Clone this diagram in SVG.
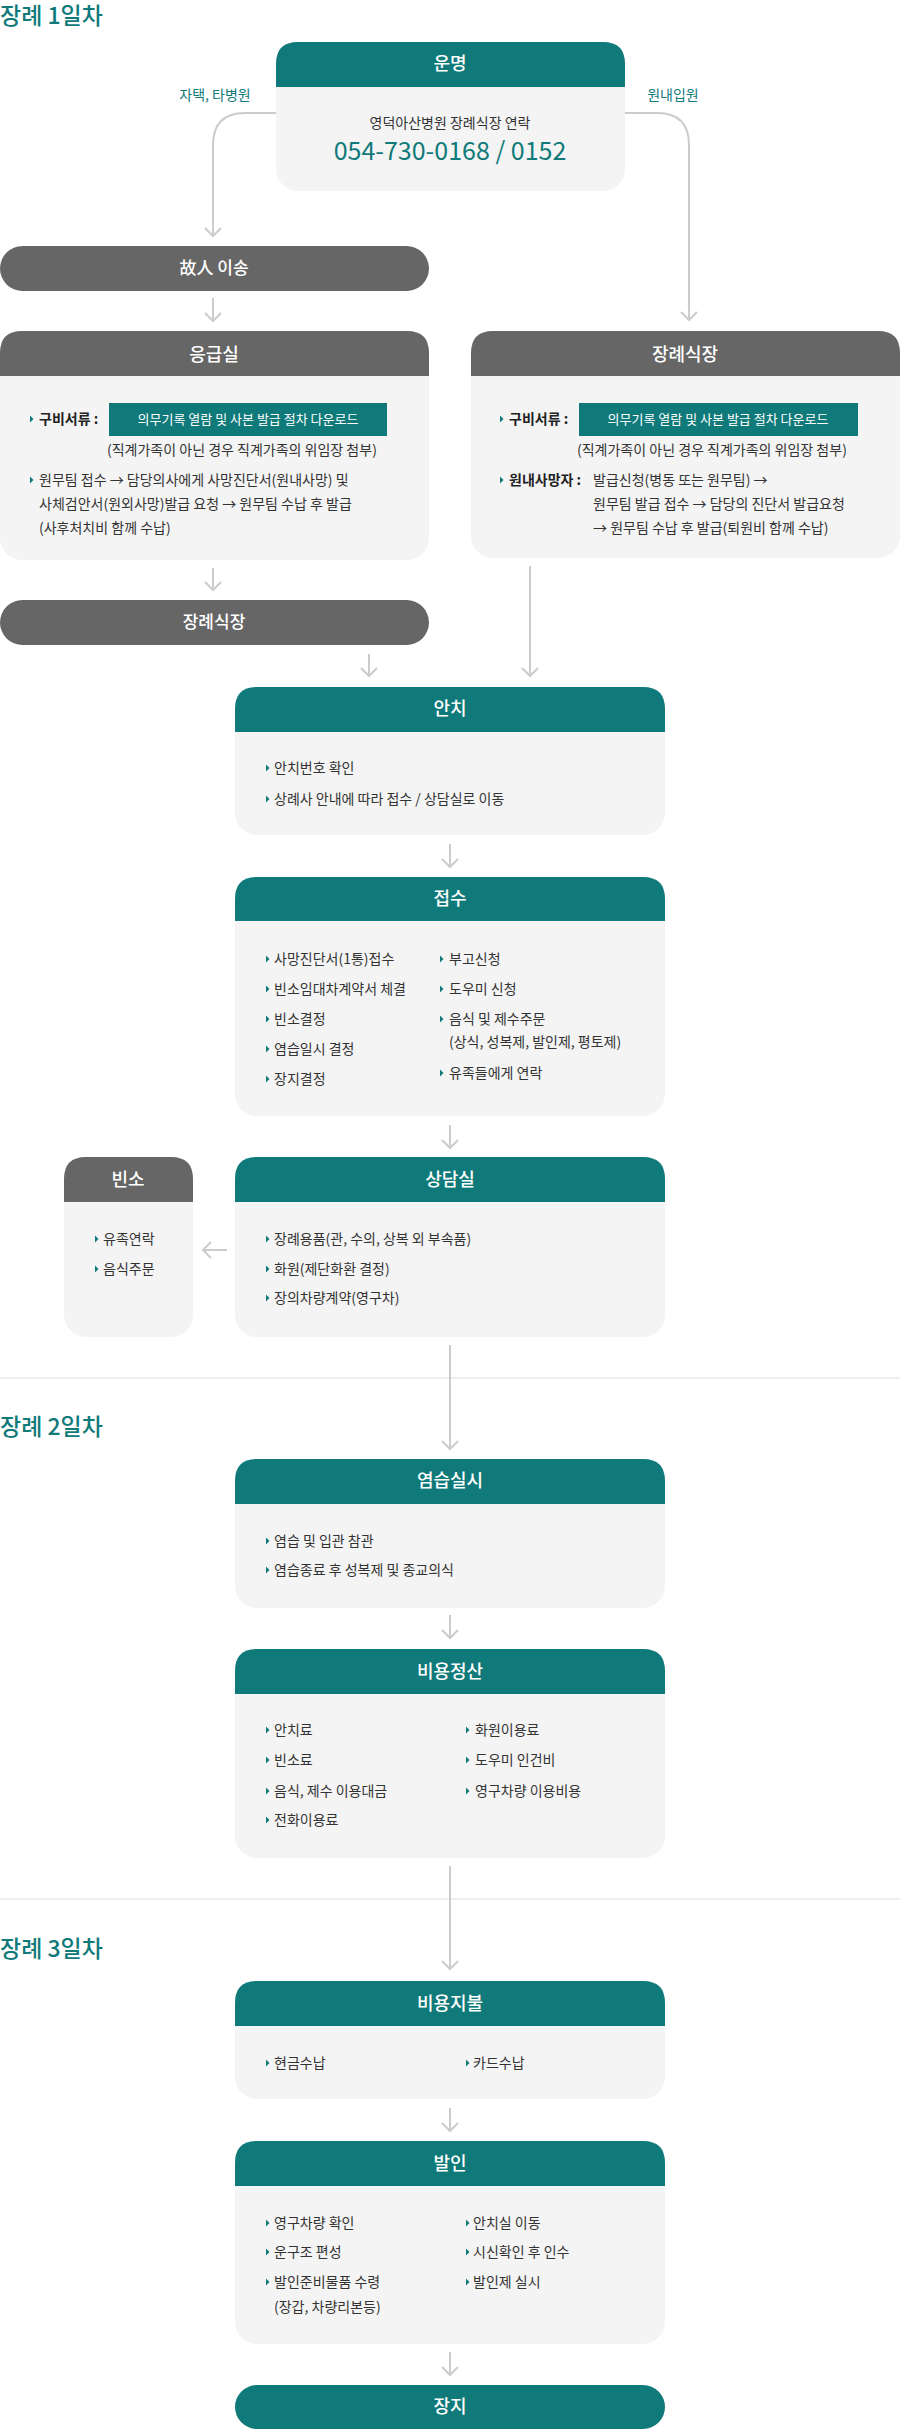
<svg xmlns="http://www.w3.org/2000/svg" xmlns:xlink="http://www.w3.org/1999/xlink" width="900" height="2430" viewBox="0 0 900 2430">
<style>
text{font-family:"Noto Sans CJK KR","Noto Sans",sans-serif}
.sec{font-size:23px;fill:#107a7a;font-weight:500}
.ht{font-size:18px;fill:#fff;text-anchor:middle;font-weight:500}
.t{font-size:14px;fill:#333}
.b{font-weight:700;fill:#222}
.bt{font-size:13px;fill:#fff;text-anchor:middle}
.lab{font-size:14px;fill:#107a7a;text-anchor:middle}
.body{fill:#f4f4f4}
.teal{fill:#107a7a}
.gray{fill:#666}
.con{fill:none;stroke:#cccccc;stroke-width:2}
.sep{stroke:#dddddd;stroke-width:1}
</style>
<defs>
<marker id="ah" markerUnits="userSpaceOnUse" markerWidth="20" markerHeight="20" refX="10" refY="10" orient="auto">
<polyline points="2,2 10,10 2,18" fill="none" stroke="#cccccc" stroke-width="2"/>
</marker>
<polygon id="bl" points="0,-3.5 3.5,0 0,3.5" fill="#107a7a"/>
</defs>

<text class="sec" x="0" y="24">장례 1일차</text>
<text class="sec" x="0" y="1435">장례 2일차</text>
<text class="sec" x="0" y="1957">장례 3일차</text>
<line class="sep" x1="0" y1="1378" x2="900" y2="1378"/>
<line class="sep" x1="0" y1="1899" x2="900" y2="1899"/>

<g id="connectors">
<path class="con" d="M276,113 H245 Q213,113 213,145 V236" marker-end="url(#ah)"/>
<path class="con" d="M625,113 H657 Q689,113 689,145 V320" marker-end="url(#ah)"/>
<text class="lab" x="215" y="100">자택, 타병원</text>
<text class="lab" x="673" y="100">원내입원</text>
<path class="con" d="M213,298 V321" marker-end="url(#ah)"/>
<path class="con" d="M213,568 V590" marker-end="url(#ah)"/>
<path class="con" d="M369,654 V676" marker-end="url(#ah)"/>
<path class="con" d="M530,566 V676" marker-end="url(#ah)"/>
<path class="con" d="M450,844 V867" marker-end="url(#ah)"/>
<path class="con" d="M450,1125 V1148" marker-end="url(#ah)"/>
<path class="con" d="M227,1250 H203" marker-end="url(#ah)"/>
<path class="con" d="M450,1345 V1449" marker-end="url(#ah)"/>
<path class="con" d="M450,1615 V1638" marker-end="url(#ah)"/>
<path class="con" d="M450,1866 V1969" marker-end="url(#ah)"/>
<path class="con" d="M450,2108 V2131" marker-end="url(#ah)"/>
<path class="con" d="M450,2352 V2375" marker-end="url(#ah)"/>
</g>

<g id="unmyeong">
<rect class="body" x="276" y="42" width="349" height="149" rx="22"/>
<path class="teal" d="M276,87 V64 Q276,42 298,42 H603 Q625,42 625,64 V87 Z"/>
<text class="ht" x="450" y="70">운명</text>
<text class="t" x="450" y="128" text-anchor="middle">영덕아산병원 장례식장 연락</text>
<text x="450" y="160" text-anchor="middle" style="font-size:25px;fill:#107a7a">054-730-0168 / 0152</text>
</g>

<g id="transfer">
<rect class="gray" x="0" y="246" width="429" height="45" rx="22.5"/>
<text class="ht" x="214" y="274" style="font-size:17px">故人 이송</text>
</g>

<g id="er">
<rect class="body" x="0" y="331" width="429" height="229" rx="22"/>
<path class="gray" d="M0,376 V353 Q0,331 22,331 H407 Q429,331 429,353 V376 Z"/>
<text class="ht" x="214" y="361">응급실</text>
<use xlink:href="#bl" x="30" y="419"/>
<text class="t b" x="39" y="424">구비서류 :</text>
<rect class="teal" x="109" y="403" width="278" height="33"/>
<text class="bt" x="248" y="424">의무기록 열람 및 사본 발급 절차 다운로드</text>
<text class="t" x="107" y="455">(직계가족이 아닌 경우 직계가족의 위임장 첨부)</text>
<use xlink:href="#bl" x="30" y="480"/>
<text class="t" x="39" y="485">원무팀 접수 → 담당의사에게 사망진단서(원내사망) 및</text>
<text class="t" x="39" y="509">사체검안서(원외사망)발급 요청 → 원무팀 수납 후 발급</text>
<text class="t" x="39" y="533">(사후처치비 함께 수납)</text>
</g>

<g id="funeral-hall-right">
<rect class="body" x="471" y="331" width="429" height="227" rx="22"/>
<path class="gray" d="M471,376 V353 Q471,331 493,331 H878 Q900,331 900,353 V376 Z"/>
<text class="ht" x="685" y="361">장례식장</text>
<use xlink:href="#bl" x="500" y="419"/>
<text class="t b" x="509" y="424">구비서류 :</text>
<rect class="teal" x="579" y="403" width="279" height="33"/>
<text class="bt" x="718" y="424">의무기록 열람 및 사본 발급 절차 다운로드</text>
<text class="t" x="577" y="455">(직계가족이 아닌 경우 직계가족의 위임장 첨부)</text>
<use xlink:href="#bl" x="500" y="480"/>
<text class="t b" x="509" y="485">원내사망자 :</text>
<text class="t" x="593" y="485">발급신청(병동 또는 원무팀) →</text>
<text class="t" x="593" y="509">원무팀 발급 접수 → 담당의 진단서 발급요청</text>
<text class="t" x="593" y="533">→ 원무팀 수납 후 발급(퇴원비 함께 수납)</text>
</g>

<g id="funeral-hall-left">
<rect class="gray" x="0" y="600" width="429" height="45" rx="22.5"/>
<text class="ht" x="214" y="628" style="font-size:17px">장례식장</text>
</g>

<g id="anchi">
<rect class="body" x="235" y="687" width="430" height="148" rx="22"/>
<path class="teal" d="M235,732 V709 Q235,687 257,687 H643 Q665,687 665,709 V732 Z"/>
<text class="ht" x="450" y="715">안치</text>
<use xlink:href="#bl" x="266" y="768"/><text class="t" x="274" y="773">안치번호 확인</text>
<use xlink:href="#bl" x="266" y="799"/><text class="t" x="274" y="804">상례사 안내에 따라 접수 / 상담실로 이동</text>
</g>

<g id="jeopsu">
<rect class="body" x="235" y="877" width="430" height="239" rx="22"/>
<path class="teal" d="M235,921 V899 Q235,877 257,877 H643 Q665,877 665,899 V921 Z"/>
<text class="ht" x="450" y="905">접수</text>
<use xlink:href="#bl" x="266" y="959"/><text class="t" x="274" y="964">사망진단서(1통)접수</text>
<use xlink:href="#bl" x="266" y="989"/><text class="t" x="274" y="994">빈소임대차계약서 체결</text>
<use xlink:href="#bl" x="266" y="1019"/><text class="t" x="274" y="1024">빈소결정</text>
<use xlink:href="#bl" x="266" y="1049"/><text class="t" x="274" y="1054">염습일시 결정</text>
<use xlink:href="#bl" x="266" y="1079"/><text class="t" x="274" y="1084">장지결정</text>
<use xlink:href="#bl" x="440" y="959"/><text class="t" x="449" y="964">부고신청</text>
<use xlink:href="#bl" x="440" y="989"/><text class="t" x="449" y="994">도우미 신청</text>
<use xlink:href="#bl" x="440" y="1019"/><text class="t" x="449" y="1024">음식 및 제수주문</text>
<text class="t" x="449" y="1047">(상식, 성복제, 발인제, 평토제)</text>
<use xlink:href="#bl" x="440" y="1073"/><text class="t" x="449" y="1078">유족들에게 연락</text>
</g>

<g id="binso">
<rect class="body" x="64" y="1157" width="129" height="180" rx="22"/>
<path class="gray" d="M64,1202 V1179 Q64,1157 86,1157 H171 Q193,1157 193,1179 V1202 Z"/>
<text class="ht" x="128" y="1186">빈소</text>
<use xlink:href="#bl" x="95" y="1239"/><text class="t" x="103" y="1244">유족연락</text>
<use xlink:href="#bl" x="95" y="1269"/><text class="t" x="103" y="1274">음식주문</text>
</g>

<g id="sangdam">
<rect class="body" x="235" y="1157" width="430" height="180" rx="22"/>
<path class="teal" d="M235,1202 V1179 Q235,1157 257,1157 H643 Q665,1157 665,1179 V1202 Z"/>
<text class="ht" x="450" y="1186">상담실</text>
<use xlink:href="#bl" x="266" y="1239"/><text class="t" x="274" y="1244">장례용품(관, 수의, 상복 외 부속품)</text>
<use xlink:href="#bl" x="266" y="1269"/><text class="t" x="274" y="1274">화원(제단화환 결정)</text>
<use xlink:href="#bl" x="266" y="1298"/><text class="t" x="274" y="1303">장의차량계약(영구차)</text>
</g>

<g id="yeomseup">
<rect class="body" x="235" y="1459" width="430" height="149" rx="22"/>
<path class="teal" d="M235,1504 V1481 Q235,1459 257,1459 H643 Q665,1459 665,1481 V1504 Z"/>
<text class="ht" x="450" y="1487">염습실시</text>
<use xlink:href="#bl" x="266" y="1541"/><text class="t" x="274" y="1546">염습 및 입관 참관</text>
<use xlink:href="#bl" x="266" y="1570"/><text class="t" x="274" y="1575">염습종료 후 성복제 및 종교의식</text>
</g>

<g id="biyong">
<rect class="body" x="235" y="1649" width="430" height="209" rx="22"/>
<path class="teal" d="M235,1694 V1671 Q235,1649 257,1649 H643 Q665,1649 665,1671 V1694 Z"/>
<text class="ht" x="450" y="1678">비용정산</text>
<use xlink:href="#bl" x="266" y="1730"/><text class="t" x="274" y="1735">안치료</text>
<use xlink:href="#bl" x="266" y="1760"/><text class="t" x="274" y="1765">빈소료</text>
<use xlink:href="#bl" x="266" y="1791"/><text class="t" x="274" y="1796">음식, 제수 이용대금</text>
<use xlink:href="#bl" x="266" y="1820"/><text class="t" x="274" y="1825">전화이용료</text>
<use xlink:href="#bl" x="466" y="1730"/><text class="t" x="475" y="1735">화원이용료</text>
<use xlink:href="#bl" x="466" y="1760"/><text class="t" x="475" y="1765">도우미 인건비</text>
<use xlink:href="#bl" x="466" y="1791"/><text class="t" x="475" y="1796">영구차량 이용비용</text>
</g>

<g id="jibul">
<rect class="body" x="235" y="1981" width="430" height="118" rx="22"/>
<path class="teal" d="M235,2026 V2003 Q235,1981 257,1981 H643 Q665,1981 665,2003 V2026 Z"/>
<text class="ht" x="450" y="2010">비용지불</text>
<use xlink:href="#bl" x="266" y="2063"/><text class="t" x="274" y="2068">현금수납</text>
<use xlink:href="#bl" x="466" y="2063"/><text class="t" x="473" y="2068">카드수납</text>
</g>

<g id="balin">
<rect class="body" x="235" y="2141" width="430" height="203" rx="22"/>
<path class="teal" d="M235,2186 V2163 Q235,2141 257,2141 H643 Q665,2141 665,2163 V2186 Z"/>
<text class="ht" x="450" y="2170">발인</text>
<use xlink:href="#bl" x="266" y="2223"/><text class="t" x="274" y="2228">영구차량 확인</text>
<use xlink:href="#bl" x="266" y="2252"/><text class="t" x="274" y="2257">운구조 편성</text>
<use xlink:href="#bl" x="266" y="2282"/><text class="t" x="274" y="2287">발인준비물품 수령</text>
<text class="t" x="274" y="2312">(장갑, 차량리본등)</text>
<use xlink:href="#bl" x="466" y="2223"/><text class="t" x="473" y="2228">안치실 이동</text>
<use xlink:href="#bl" x="466" y="2252"/><text class="t" x="473" y="2257">시신확인 후 인수</text>
<use xlink:href="#bl" x="466" y="2282"/><text class="t" x="473" y="2287">발인제 실시</text>
</g>

<g id="jangji">
<rect class="teal" x="235" y="2385" width="430" height="44" rx="22"/>
<text class="ht" x="450" y="2413">장지</text>
</g>
</svg>
